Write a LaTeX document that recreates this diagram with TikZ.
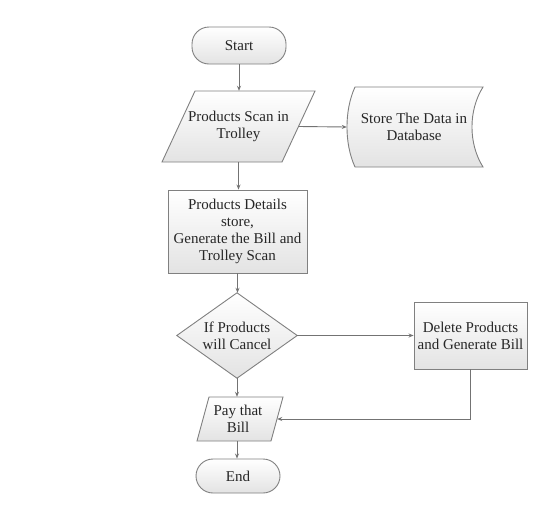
\documentclass[tikz,border=0pt]{standalone}
\usepackage{fontspec}
\setmainfont{Liberation Serif}
\newfontfamily\diagserif{Liberation Serif}
\usetikzlibrary{arrows.meta,calc}
\begin{document}
\begin{tikzpicture}[x=1pt,y=-1pt,
  txt/.style={font=\diagserif\fontsize{15}{17}\selectfont, text=black!85, align=center, inner sep=0pt},
  fillshape/.style={draw=black!50, line width=0.9pt, top color=white, bottom color=black!11},
  term/.style={txt, fillshape, rounded corners=17pt},
  boxnode/.style={txt, fillshape},
  ghost/.style={txt},
  conn/.style={draw=black!55, line width=0.9pt, -{Stealth[length=5pt,width=4pt]}}]
\useasboundingbox[fill=white] (0,0) rectangle (548,512);

% Start
\node[term, minimum width=94pt, minimum height=37pt] (start) at (239,45.5) {Start};

% Products scan parallelogram
\node[ghost, minimum width=120pt, minimum height=71pt] (scan) at (238.5,126.5) {};
\begin{scope}[shift={(scan.center)}]
  \draw[fillshape] (-43.5,-35.5) -- (76.5,-35.5) -- (43.5,35.5) -- (-76.5,35.5) -- cycle;
\end{scope}
\node[txt] at (scan.center) {Products Scan in\\Trolley};

% Stored data
\node[ghost, minimum width=136pt, minimum height=80pt] (sd) at (415,127) {};
\begin{scope}[shift={(sd.center)}]
  \draw[fillshape] (-60,-40) -- (68,-40) .. controls (53.3,-16.7) and (53.3,16.7) .. (68,40)
    -- (-60,40) .. controls (-70.7,16.7) and (-70.7,-16.7) .. (-60,-40) -- cycle;
\end{scope}
\node[txt] at ($(sd.center)+(-1,0)$) {Store The Data in\\Database};

% Process box
\node[boxnode, minimum width=139pt, minimum height=83pt] (proc) at (237.5,231.5)
  {Products Details\\store,\\Generate the Bill and\\Trolley Scan};

% Decision diamond
\node[ghost, minimum width=120pt, minimum height=85pt] (dec) at (237,335.5) {};
\draw[fillshape] (dec.north) -- (dec.east) -- (dec.south) -- (dec.west) -- cycle;
\node[txt] at (dec.center) {If Products\\will Cancel};

% Delete box
\node[boxnode, minimum width=113pt, minimum height=67pt] (del) at (470.5,335.5)
  {Delete Products\\and Generate Bill};

% Pay parallelogram
\node[ghost, minimum width=74pt, minimum height=44pt] (pay) at (240,419) {};
\begin{scope}[shift={(pay.center)}]
  \draw[fillshape] (-31,-22) -- (43,-22) -- (31,22) -- (-43,22) -- cycle;
\end{scope}
\node[txt] at ($(pay.center)+(-2,0)$) {Pay that\\Bill};

% End
\node[term, minimum width=84pt, minimum height=34pt] (end) at (238,476) {End};

% Connectors
\draw[conn] (start.south) -- (start.south |- scan.north);
\draw[conn] (scan.east) -- (sd.west);
\draw[conn] (scan.south) -- (scan.south |- proc.north);
\draw[conn] (proc.south) -- (proc.south |- dec.north);
\draw[conn] (dec.east) -- (del.west);
\draw[conn] (dec.south) -- (dec.south |- pay.north);
\draw[conn] (del.south) |- (pay.east);
\draw[conn] (dec.south |- pay.south) -- (dec.south |- end.north);
\end{tikzpicture}
\end{document}
